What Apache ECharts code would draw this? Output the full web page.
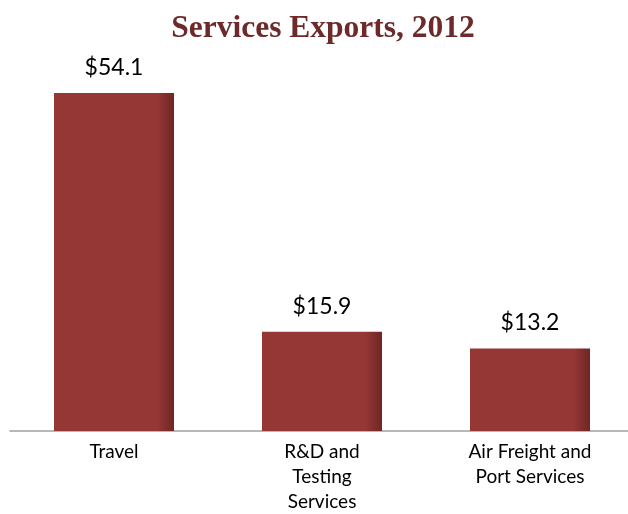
<!DOCTYPE html>
<html>
<head>
<meta charset="utf-8">
<script src="https://cdn.jsdelivr.net/npm/echarts@6/dist/echarts.min.js"></script>
<style>
html,body{margin:0;padding:0;background:#fff;}
#main{width:628px;height:514px;}
</style>
</head>
<body>
<div id="main"></div>
<script>
const titleText = 'Services Exports, 2012';
const categories = ['Travel', 'R&D and\nTesting\nServices', 'Air Freight and\nPort Services'];
const values = [54.1, 15.9, 13.2];
const labelPrefix = '$';

const chart = echarts.init(document.getElementById('main'), null, {renderer: 'canvas'});
const barGradient = new echarts.graphic.LinearGradient(0, 0, 1, 0, [
  {offset: 0, color: '#953735'},
  {offset: 0.86, color: '#953735'},
  {offset: 1, color: '#6f2624'}
]);
chart.setOption({
  animation: false,
  backgroundColor: '#ffffff',
  title: {
    text: titleText,
    left: 318,
    textAlign: 'center',
    top: 8,
    textStyle: {
      fontFamily: 'Liberation Serif',
      fontWeight: 'bold',
      fontSize: 31.5,
      color: '#6e2a2a'
    }
  },
  grid: {left: 10, right: -6, top: 56, bottom: 83, containLabel: false, outerBoundsMode: 'none'},
  xAxis: {
    type: 'category',
    data: categories,
    axisLine: {show: true, lineStyle: {color: '#a0a0a0', width: 1.5}},
    axisTick: {show: false},
    axisLabel: {
      interval: 0,
      margin: 8,
      fontFamily: 'Lato',
      fontSize: 19,
      lineHeight: 25,
      color: '#000'
    }
  },
  yAxis: {
    type: 'value',
    min: 0,
    max: 60,
    show: false,
    splitLine: {show: false}
  },
  series: [{
    type: 'bar',
    data: values,
    barWidth: 120,
    itemStyle: {color: barGradient},
    label: {
      show: true,
      position: 'top',
      distance: 14,
      formatter: p => labelPrefix + p.value.toFixed(1),
      fontFamily: 'Lato',
      fontSize: 23,
      color: '#000'
    }
  }]
});
</script>
</body>
</html>
